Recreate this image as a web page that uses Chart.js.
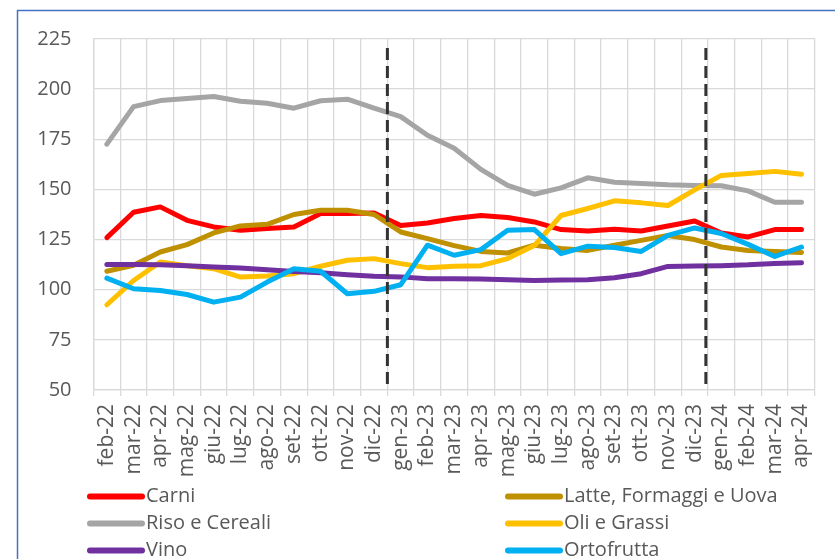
<!DOCTYPE html>
<html>
<head>
<meta charset="utf-8">
<script src="https://cdn.jsdelivr.net/npm/chart.js@4.4.1/dist/chart.umd.min.js"></script>
<style>
  html, body { margin: 0; padding: 0; background: #ffffff; }
  #wrap { position: relative; width: 835px; height: 559px; }
</style>
</head>
<body>
<div id="wrap"><canvas id="c" width="835" height="559"></canvas></div>
<script>
// ---- data ----
const categories = ['feb-22','mar-22','apr-22','mag-22','giu-22','lug-22','ago-22','set-22','ott-22','nov-22','dic-22','gen-23','feb-23','mar-23','apr-23','mag-23','giu-23','lug-23','ago-23','set-23','ott-23','nov-23','dic-23','gen-24','feb-24','mar-24','apr-24'];
const seriesNames = ['Carni', 'Latte, Formaggi e Uova', 'Riso e Cereali', 'Oli e Grassi', 'Vino', 'Ortofrutta'];
const carni = [126, 138.6, 141.3, 134.6, 131.3, 129.6, 130.5, 131.3, 138, 138, 138.3, 132, 133.3, 135.5, 137, 136, 133.8, 130, 129.3, 130.2, 129.3, 131.8, 134.3, 128.3, 126.3, 130, 130];
const latte = [109.2, 112.2, 118.8, 122.5, 128.3, 131.8, 132.6, 137.5, 139.6, 139.6, 137.5, 128.8, 125.5, 122, 119.1, 118.3, 122.2, 120.5, 119.6, 122.2, 124.6, 127, 125, 121.3, 119.6, 119, 118.6];
const riso = [172.6, 191.3, 194.3, 195.3, 196.3, 194, 193, 190.5, 194.2, 195, 190.5, 186.3, 177, 170.5, 160, 152, 147.6, 150.8, 155.8, 153.6, 153, 152.3, 152, 151.8, 149.3, 143.6, 143.6];
const oli = [92.5, 104.6, 113.8, 112, 110.5, 106.3, 106.8, 108, 111.7, 114.7, 115.5, 113, 111, 111.7, 112, 115.5, 122, 137, 140.5, 144.3, 143.3, 142, 149.8, 157, 158, 159, 157.6];
const vino = [112.6, 112.6, 112.4, 112, 111.3, 110.8, 110, 109.1, 108.5, 107.5, 106.7, 106.4, 105.5, 105.5, 105.4, 105, 104.6, 104.8, 105, 106, 108, 111.6, 111.8, 112, 112.4, 113.1, 113.5];
const orto = [105.8, 100.5, 99.6, 97.6, 93.8, 96.3, 103.8, 110.5, 109.2, 98, 99.2, 102.5, 122.2, 117.2, 120, 129.6, 130, 118, 121.7, 121, 119.1, 127.1, 130.8, 128, 122.6, 116.6, 121.3];
const yTicks = [50, 75, 100, 125, 150, 175, 200, 225];

// ---- styles ----
const colors = ['#FF0000', '#BF9000', '#A5A5A5', '#FFC000', '#7030A0', '#00B0F0'];
const allValues = [carni, latte, riso, oli, vino, orto];
const FONT = '"Open Sans", "Noto Sans", sans-serif';
const TEXT = '#595959';
const GRID = '#D9D9D9';

// dashed markers (category-scale positions: between dic-22/gen-23 and near dic-23/gen-24)
const markerPositions = [10.5, 22.42];
const markerRange = [51.2, 220.5];

const datasets = seriesNames.map((name, i) => ({
  label: name,
  data: allValues[i],
  borderColor: colors[i],
  backgroundColor: colors[i],
  borderWidth: 5,
  pointRadius: 0,
  pointHoverRadius: 0,
  tension: 0,
  fill: false,
  borderJoinStyle: 'round',
  borderCapStyle: 'round',
  order: seriesNames.length - i
}));

const framePlugin = {
  id: 'frame',
  beforeDraw(chart) {
    const ctx = chart.ctx;
    ctx.save();
    ctx.fillStyle = '#ffffff';
    ctx.fillRect(0, 0, chart.width, chart.height);
    ctx.strokeStyle = '#4472C4';
    ctx.lineWidth = 1.5;
    ctx.strokeRect(17.5, 10.5, 1000, 1000);
    ctx.restore();
  }
};

const markerPlugin = {
  id: 'markers',
  afterDatasetsDraw(chart) {
    const ctx = chart.ctx, xs = chart.scales.x, ys = chart.scales.y;
    ctx.save();
    ctx.strokeStyle = '#333333';
    ctx.lineWidth = 3;
    ctx.setLineDash([12, 6]);
    markerPositions.forEach(p => {
      const x = xs.getPixelForValue(p);
      ctx.beginPath();
      ctx.moveTo(x, ys.getPixelForValue(markerRange[1]));
      ctx.lineTo(x, ys.getPixelForValue(markerRange[0]));
      ctx.stroke();
    });
    ctx.restore();
  }
};

const legendPlugin = {
  id: 'twoColLegend',
  afterDraw(chart) {
    const ctx = chart.ctx;
    const colX = [87, 505];
    const rowY = [496.5, 523.5, 550.5];
    ctx.save();
    ctx.font = '20px ' + FONT;
    ctx.textBaseline = 'middle';
    ctx.textAlign = 'left';
    chart.data.datasets.forEach((ds, i) => {
      const x = colX[i % 2], y = rowY[Math.floor(i / 2)];
      ctx.strokeStyle = ds.borderColor;
      ctx.lineWidth = 6;
      ctx.lineCap = 'round';
      ctx.beginPath();
      ctx.moveTo(x + 3, y);
      ctx.lineTo(x + 55, y);
      ctx.stroke();
      ctx.fillStyle = TEXT;
      ctx.fillText(ds.label, x + 59, y);
    });
    ctx.restore();
  }
};

new Chart(document.getElementById('c'), {
  type: 'line',
  data: { labels: categories, datasets },
  options: {
    responsive: false,
    animation: false,
    events: [],
    layout: { padding: { left: 0, top: 39, right: 16, bottom: 69 } },
    plugins: { legend: { display: false }, tooltip: { enabled: false } },
    scales: {
      x: {
        type: 'category',
        offset: true,
        grid: { color: GRID, lineWidth: 1.3, offset: true, drawTicks: true, tickLength: 6, tickColor: GRID },
        border: { color: GRID, width: 1.3 },
        ticks: {
          color: TEXT, font: { family: FONT, size: 21 },
          minRotation: 90, maxRotation: 90, autoSkip: false, padding: 8
        },
        afterFit(scale) { scale.height = 100; }
      },
      y: {
        min: 50, max: 225,
        afterBuildTicks(scale) { scale.ticks = yTicks.map(v => ({ value: v })); },
        grid: { color: GRID, lineWidth: 1.3, drawTicks: false },
        border: { color: GRID, width: 1.3 },
        ticks: { color: TEXT, font: { family: FONT, size: 20 }, padding: 22 },
        afterFit(scale) { scale.width = 93.5; }
      }
    }
  },
  plugins: [framePlugin, markerPlugin, legendPlugin]
});
</script>
</body>
</html>
